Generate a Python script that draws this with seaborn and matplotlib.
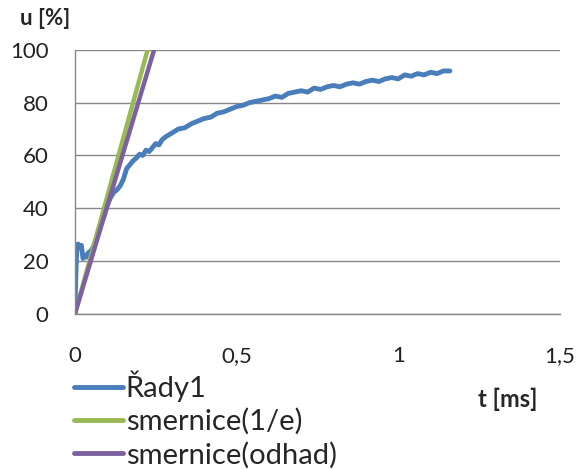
import matplotlib
matplotlib.use("Agg")
import matplotlib.pyplot as plt
import seaborn as sns
import pandas as pd
from matplotlib.lines import Line2D
from matplotlib.ticker import FuncFormatter

# measured curve
t_ms = [0, 0.003, 0.006, 0.01, 0.015, 0.02, 0.025, 0.03, 0.035, 0.04, 0.05, 0.06, 0.07,
        0.08, 0.09, 0.10, 0.11, 0.12, 0.13, 0.14, 0.15, 0.16, 0.17, 0.18, 0.19, 0.20,
        0.21, 0.22, 0.23, 0.24, 0.25, 0.26, 0.27, 0.28, 0.30, 0.32, 0.34, 0.36, 0.38,
        0.40, 0.42, 0.44, 0.46, 0.48, 0.50, 0.52, 0.54, 0.56, 0.58, 0.60, 0.62, 0.64,
        0.66, 0.68, 0.70, 0.72, 0.74, 0.76, 0.78, 0.80, 0.82, 0.84, 0.86, 0.88, 0.90,
        0.92, 0.94, 0.96, 0.98, 1.00, 1.02, 1.04, 1.06, 1.08, 1.10, 1.12, 1.14, 1.16]
u_pct = [0, 15, 25, 26.5, 25, 26, 21, 22, 21.5, 23, 24, 26, 30,
         34, 37, 41, 44, 46, 47, 48.5, 51, 55, 56.5, 58, 59, 60.5,
         60, 62, 61.5, 63, 64.5, 64, 66, 67, 68.5, 70, 70.5, 72, 73,
         74, 74.5, 76, 76.5, 77.5, 78.5, 79, 80, 80.5, 81, 81.5, 82.5, 82,
         83.5, 84, 84.5, 84, 85.5, 85, 86, 86.5, 86, 87, 87.5, 87, 88,
         88.5, 88, 89, 89.5, 89, 90.5, 90, 91, 90.5, 91.5, 91, 92, 92]

# tangent lines
t_1e = [0, 0.225]
u_1e = [0, 100]
t_odhad = [0, 0.245]
u_odhad = [0, 100]

blue = "#4A7EBB"
green = "#98B954"
purple = "#7D60A0"
grid_c = "#878787"

sns.set_style("white")
plt.rcParams["font.family"] = ["Lato", "DejaVu Sans"]

fig = plt.figure(figsize=(5.76, 4.70), dpi=100)
ax = fig.add_axes([0.130, 0.332, 0.842, 0.562])

df = pd.DataFrame({"t": t_ms, "u": u_pct})
sns.lineplot(data=df, x="t", y="u", sort=False, color=blue, lw=3.5, ax=ax)
sns.lineplot(x=t_1e, y=u_1e, color=green, lw=3.2, ax=ax)
sns.lineplot(x=t_odhad, y=u_odhad, color=purple, lw=3.2, ax=ax)

ax.set_xlim(0, 1.5)
ax.set_ylim(0, 100)
ax.set_xticks([0, 0.5, 1, 1.5])
ax.set_yticks([0, 20, 40, 60, 80, 100])
ax.xaxis.set_major_formatter(FuncFormatter(lambda v, p: ("%g" % v).replace(".", ",")))
ax.yaxis.grid(True, color=grid_c, lw=1)
ax.set_axisbelow(True)
for s in ["top", "right"]:
    ax.spines[s].set_visible(False)
for s in ["left", "bottom"]:
    ax.spines[s].set_color(grid_c)
    ax.spines[s].set_linewidth(1)
ax.tick_params(axis="both", direction="out", length=6, width=1, color=grid_c,
               labelsize=16, labelcolor="#222222")
ax.tick_params(axis="x", pad=17)
ax.tick_params(axis="y", pad=13)
ax.set_xlabel("")
ax.set_ylabel("")

fig.text(0.035, 0.960, "u [%]", fontsize=16, fontweight="bold", va="center")
fig.text(0.83, 0.150, "t [ms]", fontsize=17, fontweight="bold", va="center")

handles = [Line2D([], [], color=blue, lw=3.5),
           Line2D([], [], color=green, lw=3.5),
           Line2D([], [], color=purple, lw=3.5)]
fig.legend(handles, ["Řady1", "smernice(1/e)", "smernice(odhad)"],
           loc="upper left", bbox_to_anchor=(0.128, 0.212), frameon=False,
           fontsize=21, handlelength=1.7, handletextpad=0.08, labelspacing=0.22,
           borderpad=0, borderaxespad=0)

fig.savefig("out.png", dpi=100)
